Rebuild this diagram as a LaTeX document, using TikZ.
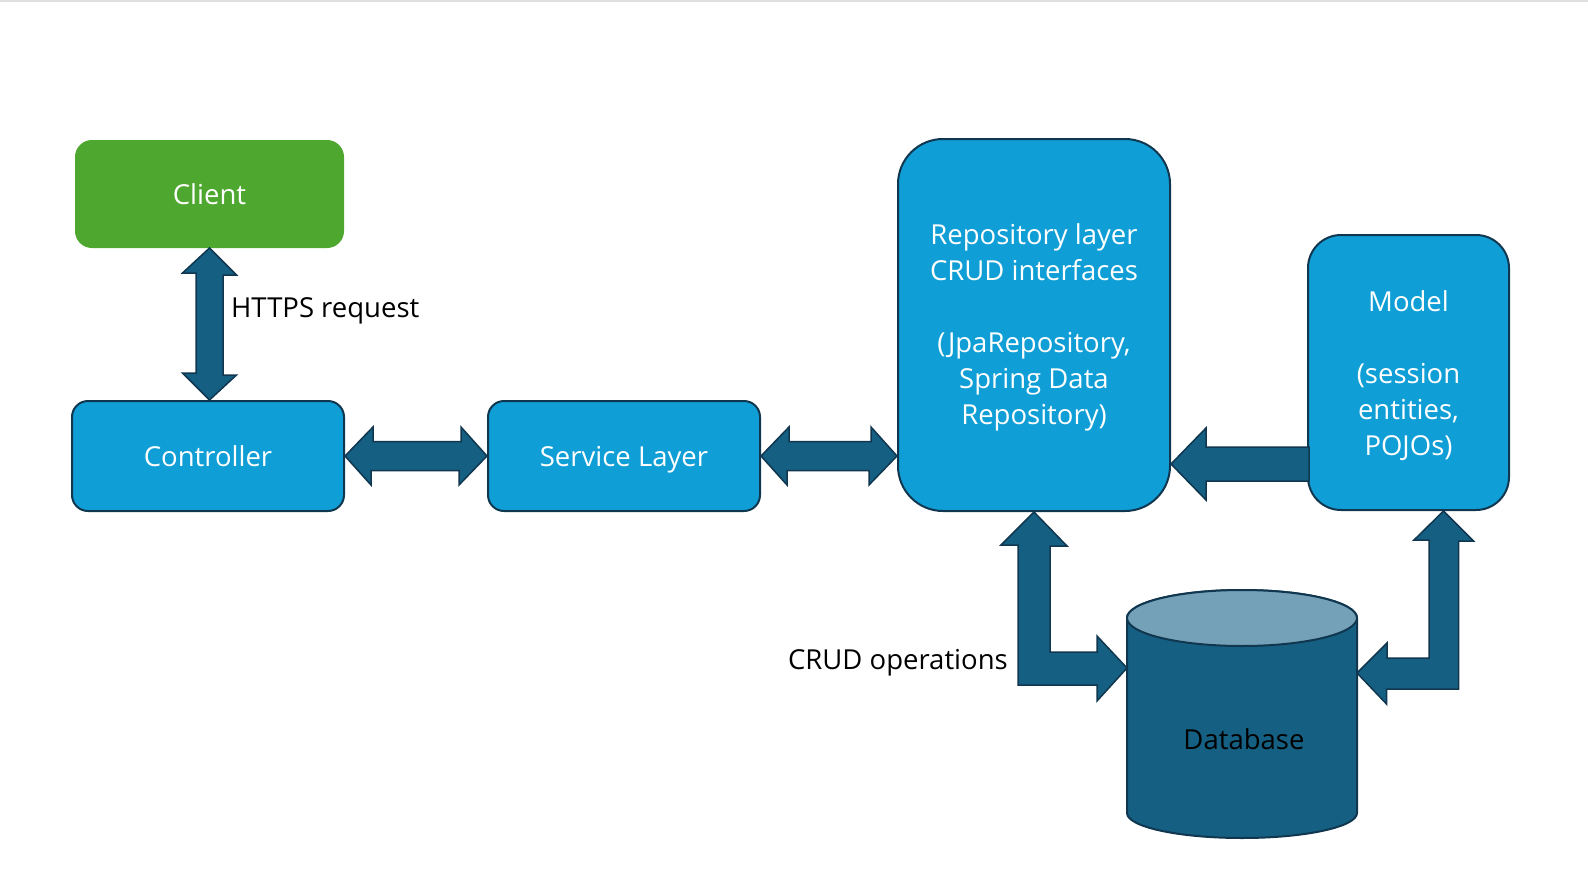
\documentclass[tikz,border=0pt]{standalone}
\usepackage{fontspec}
\setmainfont{Open Sans}
\usepackage{tikz}
\usetikzlibrary{positioning, calc}
\definecolor{boxblue}{HTML}{0F9ED5}
\definecolor{clientgreen}{HTML}{4EA72E}
\definecolor{arrowblue}{HTML}{156082}
\definecolor{darkline}{HTML}{10374F}
\definecolor{dbtop}{HTML}{74A1B7}

\begin{document}
\begin{tikzpicture}[x=1pt, y=-1pt, font=\fontsize{27.5}{36}\selectfont,
  layer/.style={rounded corners=16pt, fill=boxblue, draw=darkline, line width=2pt,
    text=white, align=center, inner sep=0pt},
  oneline/.style={text height=20pt, text depth=0pt},
  blockarrow/.style={fill=arrowblue, draw=darkline, line width=1.5pt, line join=miter},
  lbl/.style={inner sep=0pt, text=black}]
\useasboundingbox (0,0) rectangle (1588,886);
\draw[gray!25, line width=2pt] (0,1) -- (1588,1);

% Layers
\node[layer, oneline, fill=clientgreen, draw=clientgreen, minimum width=267pt, minimum height=106pt]
  (client) at (209.5,194) {Client};
\node[layer, oneline, minimum width=272pt, minimum height=110pt] (ctrl) at (208,456) {Controller};
\node[layer, oneline, minimum width=272pt, minimum height=110pt] (svc) at (624,456) {Service Layer};
\node[layer, rounded corners=45pt, minimum width=272pt, minimum height=372pt]
  (repo) at (1034,325) {};
\node[layer, rounded corners=33pt, minimum width=201pt, minimum height=275pt]
  (model) at (1408.5,372.5) {};
\node[layer, draw=none, fill=none] (repotxt) at (1034,327)
  {Repository layer\\CRUD interfaces\\[36pt](JpaRepository,\\Spring Data\\Repository)};
\node[layer, draw=none, fill=none] (modeltxt) at (1408.5,376) {Model\\[36pt](session\\entities,\\POJOs)};

% Database
\draw[fill=arrowblue, draw=darkline, line width=2pt]
  (1127,618) -- (1127,813) arc[start angle=180, end angle=360, x radius=115pt, y radius=25pt]
  -- (1357,618) arc[start angle=0, end angle=180, x radius=115pt, y radius=28pt] -- cycle;
\draw[fill=dbtop, draw=darkline, line width=2pt] (1242,618) ellipse [x radius=115pt, y radius=28pt];
\node[lbl] (db) at (1244,739) {Database};
\coordinate (dbL) at (1127,668);
\coordinate (dbR) at (1357,673);

% Labels
\node[lbl, anchor=base west] (https) at (231,317) {HTTPS request};
\node[lbl, anchor=base east] (crud) at (1008,669) {CRUD operations};

% Block arrows
\draw[blockarrow] (client.south) -- ++(27,27) -- ++(-13.5,0) -- ++(0,100) -- ++(13.5,0)
  -- (client.south |- ctrl.north) -- ++(-27,-27) -- ++(13.5,0) -- ++(0,-100) -- ++(-13.5,0) -- cycle;
\draw[blockarrow] (ctrl.east) -- ++(28,-29) -- ++(0,14.5) -- ++(88,0) -- ++(0,-14.5)
  -- (svc.west) -- ++(-28,29) -- ++(0,-14.5) -- ++(-88,0) -- ++(0,14.5) -- cycle;
\draw[blockarrow] (svc.east) -- ++(28,-29) -- ++(0,14.5) -- ++(82,0) -- ++(0,-14.5)
  -- (repo.west |- svc.east) -- ++(-28,29) -- ++(0,-14.5) -- ++(-82,0) -- ++(0,14.5) -- cycle;
\draw[blockarrow] ([yshift=-139pt]repo.east) -- ++(35,-36) -- ++(0,19) -- ++(103,0)
  -- ++(0,34) -- ++(-103,0) -- ++(0,19) -- cycle;
\draw[blockarrow] (repo.south) -- ++(33,34) -- ++(-17,0) -- ++(0,106) -- ++(47,0) -- ++(0,-16)
  -- (dbL) -- ++(-30,33) -- ++(0,-16) -- ++(-79,0) -- ++(0,-140) -- ++(-17,0) -- cycle;
\draw[blockarrow] ([xshift=35pt]model.south) -- ++(30,30) -- ++(-15,0) -- ++(0,148) -- ++(-72,0)
  -- ++(0,15) -- (dbR) -- ++(30,-30) -- ++(0,15) -- ++(42,0) -- ++(0,-118) -- ++(-15,0) -- cycle;
\end{tikzpicture}
\end{document}
